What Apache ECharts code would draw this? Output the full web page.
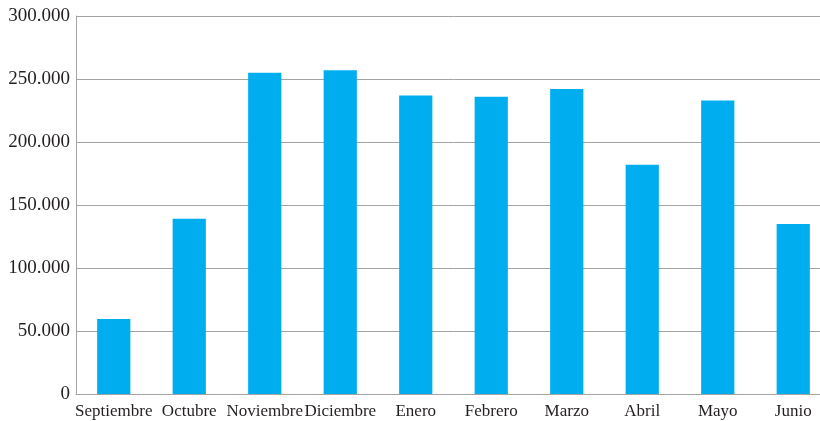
<!DOCTYPE html>
<html>
<head>
<meta charset="utf-8">
<script src="https://cdn.jsdelivr.net/npm/echarts@6/dist/echarts.min.js"></script>
<style>
  html, body { margin: 0; padding: 0; background: #ffffff; overflow: hidden; width: 820px; height: 421px; }
  /* the plot area runs slightly past the right edge of the visible page */
  #chart { width: 831px; height: 421px; }
</style>
</head>
<body>
<div id="chart"></div>
<script>
// Monthly totals, September through June
const months = ['Septiembre', 'Octubre', 'Noviembre', 'Diciembre', 'Enero', 'Febrero', 'Marzo', 'Abril', 'Mayo', 'Junio'];
const totals = [59500, 139000, 255000, 257000, 237000, 236000, 242000, 182000, 233000, 135000];

const yMin = 0;
const yMax = 300000;
const yStep = 50000;

// Spanish-style thousands grouping: 250000 -> "250.000"
function fmtThousands(v) {
  return String(Math.round(v)).replace(/\B(?=(\d{3})+(?!\d))/g, '.');
}

const fontFamily = '"Liberation Serif", "DejaVu Serif", serif';
const textColor = '#231f20';
const lineColor = '#a3a3a3';

const chart = echarts.init(document.getElementById('chart'), null, { renderer: 'canvas' });
chart.setOption({
  animation: false,
  backgroundColor: '#ffffff',
  grid: { left: 76, right: 0, top: 16, bottom: 27, containLabel: false },
  xAxis: {
    type: 'category',
    data: months,
    axisLine: { show: true, lineStyle: { color: lineColor, width: 1 } },
    axisTick: { show: false },
    axisLabel: { color: textColor, fontFamily: fontFamily, fontSize: 17, margin: 9, interval: 0 }
  },
  yAxis: {
    type: 'value',
    min: yMin,
    max: yMax,
    interval: yStep,
    axisLine: { show: true, lineStyle: { color: lineColor, width: 1 } },
    axisTick: { show: false },
    axisLabel: { color: textColor, fontFamily: fontFamily, fontSize: 19, margin: 6, formatter: fmtThousands },
    splitLine: { show: true, lineStyle: { color: lineColor, width: 1 } }
  },
  series: [{
    type: 'bar',
    data: totals,
    barWidth: '44%',
    itemStyle: { color: '#00aeef' }
  }]
});
</script>
</body>
</html>
